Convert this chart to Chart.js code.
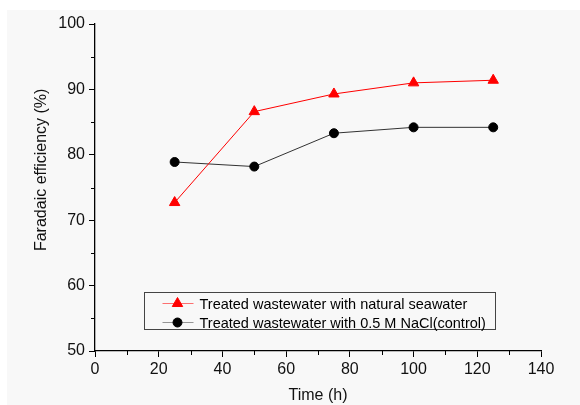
<!DOCTYPE html>
<html>
<head>
<meta charset="utf-8">
<script src="https://cdn.jsdelivr.net/npm/chart.js@4.4.0/dist/chart.umd.min.js"></script>
<style>
  body { margin: 0; background: #fff; }
</style>
</head>
<body>
<canvas id="myChart" width="580" height="405"></canvas>
<script>
const hours = [25, 50, 75, 100, 125];
const seawaterEff = [72.7, 86.6, 89.3, 91.0, 91.4];
const naclEff = [78.9, 78.2, 83.3, 84.2, 84.2];
const seriesLabels = ['Treated wastewater with natural seawater', 'Treated wastewater with 0.5 M NaCl(control)'];
const yTitle = 'Faradaic efficiency (%)';
const FONT = "'Liberation Sans', Arial, sans-serif";

const toPoints = (ys) => hours.map((x, i) => ({ x: x, y: ys[i] }));

// grey page behind the plot, white strip on top/left like the scan
const paperBg = {
  id: 'paperBg',
  beforeDraw(chart) {
    const ctx = chart.ctx;
    ctx.save();
    ctx.fillStyle = '#ffffff';
    ctx.fillRect(0, 0, chart.width, chart.height);
    ctx.fillStyle = '#f8f8f8';
    ctx.fillRect(7, 10, chart.width - 7, chart.height - 10);
    ctx.restore();
  }
};

// half-step ticks between the labelled ones + the y title (sits a bit above centre)
const minorTicks = {
  id: 'minorTicks',
  afterDraw(chart) {
    const ctx = chart.ctx;
    const { x, y } = chart.scales;
    ctx.save();
    ctx.strokeStyle = '#000';
    ctx.lineWidth = 1;
    ctx.beginPath();
    for (let v = x.min + 10; v < x.max; v += 20) {
      const px = Math.round(x.getPixelForValue(v)) + 0.5;
      ctx.moveTo(px, x.top);
      ctx.lineTo(px, x.top + 4);
    }
    for (let v = y.min + 5; v < y.max; v += 10) {
      const py = Math.round(y.getPixelForValue(v)) + 0.5;
      ctx.moveTo(y.right, py);
      ctx.lineTo(y.right - 4, py);
    }
    ctx.stroke();

    ctx.translate(42, y.getPixelForValue(77.7));
    ctx.rotate(-Math.PI / 2);
    ctx.font = '16px ' + FONT;
    ctx.fillStyle = '#111';
    ctx.textAlign = 'center';
    ctx.textBaseline = 'middle';
    ctx.fillText(yTitle, 0, 0);
    ctx.restore();
  }
};

// boxed legend inside the plot area
const boxLegend = {
  id: 'boxLegend',
  afterDraw(chart) {
    const ctx = chart.ctx;
    const area = chart.chartArea;
    const bx = area.left + 49.5, by = area.bottom - 58.5, bw = 351, bh = 37;
    ctx.save();
    ctx.strokeStyle = '#444';
    ctx.lineWidth = 1;
    ctx.strokeRect(bx, by, bw, bh);
    ctx.font = '14.5px ' + FONT;
    ctx.textBaseline = 'middle';
    chart.data.datasets.forEach((ds, i) => {
      const cy = by + 11 + i * 19;
      ctx.strokeStyle = ds.legendLine;
      ctx.lineWidth = 1;
      ctx.beginPath();
      ctx.moveTo(bx + 18, cy);
      ctx.lineTo(bx + 49, cy);
      ctx.stroke();
      ctx.fillStyle = ds.pointBackgroundColor;
      ctx.strokeStyle = ds.pointBorderColor;
      Chart.helpers.drawPoint(ctx, { pointStyle: ds.pointStyle, radius: ds.pointRadius, rotation: 0, borderWidth: 1 }, bx + 33, cy);
      ctx.fillStyle = '#000';
      ctx.fillText(ds.label, bx + 55, cy + 1);
    });
    ctx.restore();
  }
};

const config = {
  type: 'line',
  plugins: [paperBg, minorTicks, boxLegend],
  data: {
    datasets: [
      {
        label: seriesLabels[0],
        data: toPoints(seawaterEff),
        borderColor: '#ff0000',
        borderWidth: 1,
        legendLine: 'rgba(255,0,0,0.55)',
        pointStyle: 'triangle',
        pointRadius: 6,
        pointBackgroundColor: '#ff0000',
        pointBorderColor: '#ff0000',
      },
      {
        label: seriesLabels[1],
        data: toPoints(naclEff),
        borderColor: '#333333',
        borderWidth: 1,
        legendLine: 'rgba(0,0,0,0.4)',
        pointStyle: 'circle',
        pointRadius: 4.5,
        pointBackgroundColor: '#000000',
        pointBorderColor: '#000000',
      },
    ],
  },
  options: {
    responsive: false,
    animation: false,
    layout: { padding: { left: 0, right: 39, top: 24, bottom: 0 } },
    plugins: {
      legend: { display: false },
      tooltip: { enabled: false },
    },
    scales: {
      x: {
        type: 'linear',
        min: 0,
        max: 140,
        afterFit: (s) => { s.height = 54; },
        ticks: { stepSize: 20, padding: 3, color: '#111', font: { family: FONT, size: 16 } },
        grid: { drawOnChartArea: false, tickLength: 6, tickColor: '#000', tickWidth: 1 },
        border: { color: '#000', width: 1.3 },
        title: { display: true, text: 'Time (h)', color: '#111', font: { family: FONT, size: 16 }, padding: { top: 0, bottom: 0 } },
      },
      y: {
        min: 50,
        max: 100,
        afterFit: (s) => { s.width = 95; },
        ticks: { stepSize: 10, padding: 4, color: '#111', font: { family: FONT, size: 16 } },
        grid: { drawOnChartArea: false, tickLength: 6, tickColor: '#000', tickWidth: 1 },
        border: { color: '#000', width: 1.3 },
        title: { display: false },
      },
    },
  },
};

new Chart(document.getElementById('myChart'), config);
</script>
</body>
</html>
